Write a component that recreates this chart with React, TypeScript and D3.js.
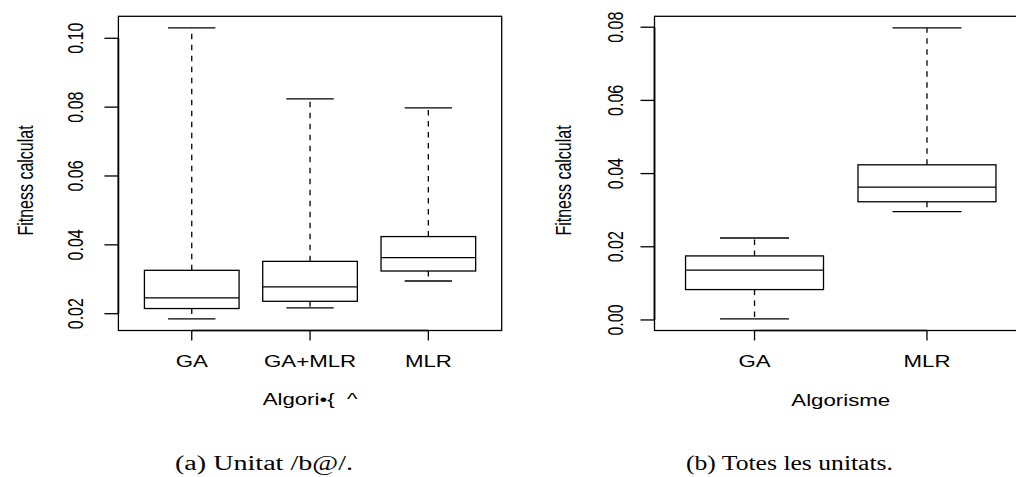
import React from "react";
import * as d3 from "d3";

// Panel (a): Unitat /b@/
const catsA = ["GA", "GA+MLR", "MLR"];
const lowA = [0.0185, 0.0217, 0.0295];
const q1A = [0.0215, 0.0236, 0.0324];
const medA = [0.0246, 0.0278, 0.0363];
const q3A = [0.0326, 0.0352, 0.0424];
const highA = [0.103, 0.0824, 0.0798];
const ticksA = [0.02, 0.04, 0.06, 0.08, 0.1];
const tickLabelsA = ["0.02", "0.04", "0.06", "0.08", "0.10"];

// Panel (b): Totes les unitats
const catsB = ["GA", "MLR"];
const lowB = [0.0003, 0.0296];
const q1B = [0.0083, 0.0323];
const medB = [0.0136, 0.0363];
const q3B = [0.0175, 0.0424];
const highB = [0.0224, 0.0798];
const ticksB = [0.0, 0.02, 0.04, 0.06, 0.08];
const tickLabelsB = ["0.00", "0.02", "0.04", "0.06", "0.08"];

const SANS = "'Liberation Sans', Arial, Helvetica, sans-serif";
const SERIF = "'Liberation Serif', 'Times New Roman', serif";
const SX = 1.39;
const SW = 1.3;

type PanelProps = {
  cats: string[];
  low: number[];
  q1: number[];
  med: number[];
  q3: number[];
  high: number[];
  ticks: number[];
  tickLabels: string[];
  left: number;
  right: number;
  top: number;
  bottom: number;
  tickLabelX: number;
  yLabelX: number;
  xTitle: string;
  xTitleY: number;
};

function Panel(p: PanelProps) {
  const n = p.cats.length;
  const xpad = 0.04 * n;
  const x = d3.scaleLinear().domain([0.5 - xpad, n + 0.5 + xpad]).range([p.left, p.right]);
  const lo = d3.min(p.low)!;
  const hi = d3.max(p.high)!;
  const ypad = 0.04 * (hi - lo);
  const y = d3.scaleLinear().domain([lo - ypad, hi + ypad]).range([p.bottom, p.top]);
  const unit = x(2) - x(1);
  const halfBox = 0.4 * unit;
  const halfStaple = halfBox / 2;
  const centerX = (p.left + p.right) / 2;

  return (
    <g>
      <rect x={p.left} y={p.top} width={p.right - p.left} height={p.bottom - p.top} fill="none" stroke="#000" strokeWidth={SW} />
      {p.cats.map((c, i) => {
        const cx = x(i + 1);
        return (
          <g key={c}>
            <line x1={cx} x2={cx} y1={y(p.q3[i])} y2={y(p.high[i])} stroke="#000" strokeWidth={SW} strokeDasharray="5.5,5.5" />
            <line x1={cx} x2={cx} y1={y(p.q1[i])} y2={y(p.low[i])} stroke="#000" strokeWidth={SW} strokeDasharray="5.5,5.5" />
            <line x1={cx - halfStaple} x2={cx + halfStaple} y1={y(p.high[i])} y2={y(p.high[i])} stroke="#000" strokeWidth={SW} />
            <line x1={cx - halfStaple} x2={cx + halfStaple} y1={y(p.low[i])} y2={y(p.low[i])} stroke="#000" strokeWidth={SW} />
            <rect x={cx - halfBox} y={y(p.q3[i])} width={2 * halfBox} height={y(p.q1[i]) - y(p.q3[i])} fill="#fff" stroke="#000" strokeWidth={SW} />
            <line x1={cx - halfBox} x2={cx + halfBox} y1={y(p.med[i])} y2={y(p.med[i])} stroke="#000" strokeWidth={SW} />
          </g>
        );
      })}
      <line x1={x(1)} x2={x(n)} y1={p.bottom} y2={p.bottom} stroke="#000" strokeWidth={SW + 0.4} />
      {p.cats.map((c, i) => (
        <g key={"xt" + c}>
          <line x1={x(i + 1)} x2={x(i + 1)} y1={p.bottom} y2={p.bottom + 10} stroke="#000" strokeWidth={SW} />
          <text transform={`translate(${x(i + 1)},367.3) scale(${SX},1)`} textAnchor="middle" fontFamily={SANS} fontSize={16} fill="#000">
            {c}
          </text>
        </g>
      ))}
      <line x1={p.left} x2={p.left} y1={y(p.ticks[0])} y2={y(p.ticks[p.ticks.length - 1])} stroke="#000" strokeWidth={SW + 0.4} />
      {p.ticks.map((t, i) => (
        <g key={"yt" + i}>
          <line x1={p.left - 14} x2={p.left} y1={y(t)} y2={y(t)} stroke="#000" strokeWidth={SW} />
          <text transform={`translate(${p.tickLabelX},${y(t)}) scale(${SX},1) rotate(-90)`} textAnchor="middle" fontFamily={SANS} fontSize={16} fill="#000">
            {p.tickLabels[i]}
          </text>
        </g>
      ))}
      <text transform={`translate(${p.yLabelX},180.5) scale(${SX},1) rotate(-90)`} textAnchor="middle" fontFamily={SANS} fontSize={16} fill="#000">
        Fitness calculat
      </text>
      <text transform={`translate(${centerX},${p.xTitleY}) scale(${SX},1)`} textAnchor="middle" fontFamily={SANS} fontSize={16} fill="#000" style={{ whiteSpace: "pre" }}>
        {p.xTitle}
      </text>
    </g>
  );
}

export default function App() {
  return (
    <svg width={1016} height={477} viewBox="0 0 1016 477" style={{ position: "absolute", left: 0, top: 0, background: "#fff" }}>
      <rect x={0} y={0} width={1016} height={477} fill="#fff" />
      <Panel
        cats={catsA}
        low={lowA}
        q1={q1A}
        med={medA}
        q3={q3A}
        high={highA}
        ticks={ticksA}
        tickLabels={tickLabelsA}
        left={118.4}
        right={501.7}
        top={16.3}
        bottom={330.5}
        tickLabelX={83}
        yLabelX={33}
        xTitle={"Algori\u2022{  ^"}
        xTitleY={405}
      />
      <Panel
        cats={catsB}
        low={lowB}
        q1={q1B}
        med={medB}
        q3={q3B}
        high={highB}
        ticks={ticksB}
        tickLabels={tickLabelsB}
        left={654.5}
        right={1027}
        top={16.3}
        bottom={330.5}
        tickLabelX={622.7}
        yLabelX={570.7}
        xTitle={"Algorisme"}
        xTitleY={406}
      />
      <text x={175} y={469.5} fontFamily={SERIF} fontSize={20} textLength={178} lengthAdjust="spacingAndGlyphs" fill="#000">
        (a) Unitat /b@/.
      </text>
      <text x={686} y={469.5} fontFamily={SERIF} fontSize={20} textLength={207} lengthAdjust="spacingAndGlyphs" fill="#000">
        (b) Totes les unitats.
      </text>
    </svg>
  );
}
